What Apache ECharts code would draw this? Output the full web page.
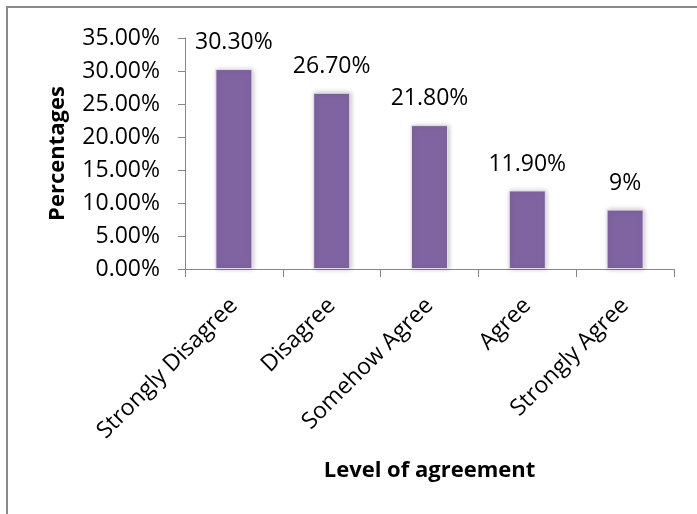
<!DOCTYPE html>
<html>
<head>
<meta charset="utf-8">
<script src="https://cdn.jsdelivr.net/npm/echarts@6/dist/echarts.min.js"></script>
<style>
  html, body { margin: 0; padding: 0; background: #fff; }
  #chart { width: 697px; height: 514px; }
</style>
</head>
<body>
<div id="chart"></div>
<script>
const categories = ["Strongly Disagree", "Disagree", "Somehow Agree", "Agree", "Strongly Agree"];
const values = [30.3, 26.7, 21.8, 11.9, 9];
const valueLabels = ["30.30%", "26.70%", "21.80%", "11.90%", "9%"];
const yMin = 0, yMax = 35, yStep = 5;
const xTitle = "Level of agreement";
const yTitle = "Percentages";

const FONT = "'Open Sans', 'Noto Sans', sans-serif";
const chart = echarts.init(document.getElementById('chart'), null, { renderer: 'canvas' });

chart.setOption({
  backgroundColor: '#ffffff',
  animation: false,
  textStyle: { fontFamily: FONT },
  graphic: [{
    type: 'polyline',
    shape: { points: [[7, 514], [7, 7], [697, 7]] },
    style: { stroke: '#8a8a8a', lineWidth: 2, fill: null },
    silent: true
  }],
  grid: { left: 185, right: 23, top: 38, bottom: 245, containLabel: false },
  xAxis: {
    type: 'category',
    data: categories,
    name: xTitle,
    nameLocation: 'middle',
    nameGap: 191,
    nameTextStyle: { fontFamily: FONT, fontSize: 22, fontWeight: 'bold', color: '#000' },
    axisLine: { show: true, lineStyle: { color: '#868686', width: 1 } },
    axisTick: { show: true, alignWithLabel: false, length: 8, lineStyle: { color: '#868686' } },
    axisLabel: {
      interval: 0,
      rotate: 45,
      margin: 33,
      fontFamily: FONT,
      fontSize: 23,
      color: '#000'
    },
    splitLine: { show: false }
  },
  yAxis: {
    type: 'value',
    min: yMin,
    max: yMax,
    interval: yStep,
    name: yTitle,
    nameLocation: 'middle',
    nameGap: 116,
    nameRotate: 90,
    nameTextStyle: { fontFamily: FONT, fontSize: 22, fontWeight: 'bold', color: '#000' },
    axisLine: { show: true, lineStyle: { color: '#868686', width: 1 } },
    axisTick: { show: true, length: 7, lineStyle: { color: '#868686' } },
    axisLabel: {
      margin: 25,
      fontFamily: FONT,
      fontSize: 23,
      color: '#000',
      formatter: v => v.toFixed(2) + '%'
    },
    splitLine: { show: false }
  },
  series: [{
    type: 'bar',
    data: values,
    barWidth: 37,
    itemStyle: {
      color: '#8064A2',
      borderColor: 'rgba(235,228,242,0.9)',
      borderWidth: 1,
      shadowColor: 'rgba(0,0,0,0.25)',
      shadowBlur: 5,
      shadowOffsetX: 1,
      shadowOffsetY: 0
    },
    label: {
      show: true,
      position: 'top',
      distance: 15,
      fontFamily: FONT,
      fontSize: 23,
      color: '#000',
      formatter: p => valueLabels[p.dataIndex]
    }
  }]
});
</script>
</body>
</html>
